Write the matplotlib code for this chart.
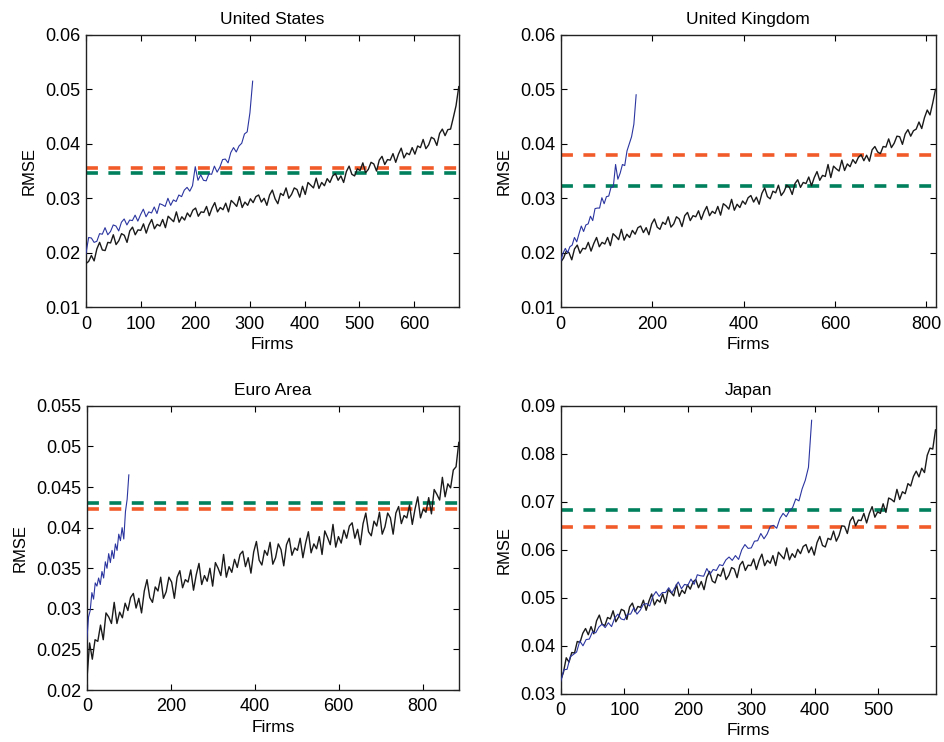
import matplotlib.pyplot as plt
import numpy as np

plt.rcParams['font.family'] = ['Liberation Sans', 'DejaVu Sans']

# 数据: sorted RMSE per firm, in units of 1e-4
titles = ['United States', 'United Kingdom', 'Euro Area', 'Japan']
n_firms = [682, 820, 886, 590]

us_black = [180, 184, 195, 185, 207, 219, 205, 204, 219, 218, 233, 215, 222, 235, 232, 219, 240, 247, 233, 242,
            241, 253, 236, 251, 261, 244, 252, 249, 261, 246, 267, 262, 257, 275, 256, 266, 260, 273, 266, 278,
            282, 267, 275, 274, 285, 268, 282, 292, 275, 283, 279, 291, 275, 296, 291, 285, 303, 283, 293, 287,
            299, 292, 303, 306, 293, 300, 287, 306, 315, 299, 290, 309, 305, 319, 300, 307, 319, 316, 302, 322,
            307, 329, 324, 319, 337, 318, 329, 323, 336, 329, 341, 345, 333, 341, 329, 349, 359, 344, 341, 354,
            351, 365, 347, 353, 366, 363, 350, 370, 377, 362, 371, 370, 382, 366, 381, 392, 374, 383, 380, 393,
            381, 396, 393, 408, 391, 398, 412, 409, 397, 419, 427, 415, 426, 427, 448, 470, 505]
us_blue = [198, 228, 227, 219, 221, 235, 234, 246, 233, 239, 251, 249, 240, 256, 262, 251, 260, 259, 269, 258,
           270, 280, 266, 275, 273, 284, 272, 290, 288, 285, 300, 287, 297, 294, 306, 303, 315, 320, 313, 323,
           358, 333, 343, 333, 332, 345, 344, 359, 348, 357, 371, 372, 365, 384, 393, 385, 396, 401, 418, 422,
           457, 515]
us_blue_firms = 305

uk_black = [183, 190, 203, 200, 187, 207, 214, 199, 208, 207, 219, 203, 217, 228, 211, 219, 216, 228, 213, 235,
            230, 224, 243, 223, 234, 228, 241, 234, 246, 249, 237, 246, 233, 253, 262, 247, 243, 256, 252, 266,
            247, 253, 266, 262, 248, 268, 274, 259, 268, 266, 277, 261, 275, 285, 268, 276, 272, 285, 269, 290,
            286, 280, 298, 278, 289, 283, 295, 289, 301, 305, 293, 302, 289, 309, 319, 303, 299, 313, 310, 324,
            305, 312, 324, 320, 307, 327, 334, 320, 329, 327, 339, 323, 338, 349, 333, 342, 340, 362, 338, 359,
            354, 350, 370, 351, 363, 358, 371, 364, 375, 380, 369, 379, 368, 389, 395, 385, 382, 395, 394, 409,
            393, 401, 414, 413, 399, 418, 426, 414, 424, 427, 440, 428, 448, 462, 453, 475, 500]
uk_blue = [185, 199, 208, 200, 211, 214, 228, 220, 235, 249, 239, 251, 253, 267, 259, 281, 282, 282, 301, 290,
           303, 304, 320, 321, 362, 335, 346, 362, 360, 387, 400, 413, 436, 490]
uk_blue_firms = 165

ea_black = [212, 258, 238, 262, 260, 280, 262, 295, 290, 282, 308, 282, 296, 289, 307, 298, 314, 319, 301, 313,
            295, 322, 336, 314, 308, 327, 322, 339, 313, 321, 339, 333, 313, 339, 347, 326, 336, 333, 348, 323,
            342, 356, 330, 341, 334, 350, 328, 357, 350, 341, 367, 339, 352, 345, 361, 351, 367, 371, 352, 363,
            344, 370, 383, 360, 354, 372, 366, 382, 355, 363, 380, 373, 353, 379, 387, 366, 375, 372, 387, 363,
            381, 395, 369, 380, 374, 389, 367, 396, 388, 379, 404, 376, 389, 381, 397, 387, 402, 406, 387, 398,
            379, 405, 418, 395, 390, 408, 402, 419, 392, 401, 418, 412, 392, 418, 426, 405, 415, 412, 428, 404,
            423, 438, 412, 423, 419, 437, 417, 447, 441, 434, 462, 438, 454, 449, 471, 475, 505]
ea_blue = [262, 290, 298, 320, 312, 332, 328, 338, 330, 346, 338, 358, 350, 368, 357, 372, 362, 380, 372, 392,
           384, 400, 386, 420, 435, 465]
ea_blue_firms = 100

jp_black = [328, 345, 375, 366, 386, 385, 409, 407, 426, 436, 423, 440, 425, 452, 464, 445, 442, 459, 456, 473,
            450, 460, 476, 473, 455, 481, 489, 471, 482, 480, 495, 474, 493, 508, 485, 496, 491, 508, 488, 517,
            511, 504, 528, 503, 516, 509, 527, 518, 533, 538, 521, 534, 517, 543, 555, 535, 531, 549, 545, 562,
            538, 547, 563, 560, 542, 568, 576, 557, 568, 567, 581, 559, 578, 591, 567, 578, 572, 588, 567, 595,
            588, 581, 604, 579, 592, 584, 601, 592, 607, 611, 594, 606, 589, 615, 628, 609, 606, 624, 621, 639,
            618, 630, 650, 649, 634, 660, 669, 650, 662, 661, 676, 656, 676, 690, 668, 679, 676, 696, 678, 708,
            705, 700, 726, 705, 721, 717, 738, 733, 753, 764, 752, 770, 761, 797, 812, 810, 850]
jp_blue = [326, 350, 351, 377, 382, 387, 410, 400, 413, 414, 429, 427, 439, 445, 438, 448, 440, 458, 466, 456,
           454, 466, 466, 479, 466, 474, 486, 488, 483, 503, 513, 503, 511, 511, 521, 510, 522, 533, 519, 528,
           526, 539, 528, 548, 546, 545, 561, 549, 559, 557, 569, 567, 579, 585, 578, 588, 580, 600, 611, 603,
           604, 618, 619, 634, 623, 633, 649, 651, 645, 665, 676, 669, 681, 688, 706, 702, 727, 745, 772, 870]
jp_blue_firms = 395

black_series = [us_black, uk_black, ea_black, jp_black]
blue_series = [us_blue, uk_blue, ea_blue, jp_blue]
blue_firms = [us_blue_firms, uk_blue_firms, ea_blue_firms, jp_blue_firms]

# 水平参考线 (orange, green)
orange_level = [0.0355, 0.0380, 0.0423, 0.0647]
green_level = [0.0347, 0.0322, 0.0430, 0.0683]

ylims = [(0.01, 0.06), (0.01, 0.06), (0.02, 0.055), (0.03, 0.09)]
yticks = [np.arange(0.01, 0.0601, 0.01), np.arange(0.01, 0.0601, 0.01),
          np.arange(0.02, 0.0551, 0.005), np.arange(0.03, 0.0901, 0.01)]
ytick_labels = [['0.01', '0.02', '0.03', '0.04', '0.05', '0.06'],
                ['0.01', '0.02', '0.03', '0.04', '0.05', '0.06'],
                ['0.02', '0.025', '0.03', '0.035', '0.04', '0.045', '0.05', '0.055'],
                ['0.03', '0.04', '0.05', '0.06', '0.07', '0.08', '0.09']]
xticks = [np.arange(0, 601, 100), np.arange(0, 801, 200),
          np.arange(0, 801, 200), np.arange(0, 501, 100)]

# 坐标轴位置 (figure fraction)
positions = [[0.091, 0.586, 0.395, 0.367],
             [0.594, 0.586, 0.397, 0.367],
             [0.092, 0.070, 0.394, 0.383],
             [0.594, 0.065, 0.397, 0.388]]

fig = plt.figure(figsize=(9.44, 7.42), dpi=100)

for i in range(4):
    ax = fig.add_axes(positions[i])
    n = n_firms[i]
    ax.axhline(orange_level[i], color='#f15a29', lw=2.6, dashes=(3.3, 2.9), zorder=2)
    ax.axhline(green_level[i], color='#00805c', lw=2.6, dashes=(3.3, 2.9), zorder=2)
    yb = np.array(black_series[i]) * 1e-4
    xb = np.linspace(0, n, len(yb))
    ax.plot(xb, yb, color='#1a1a1a', lw=1.0, zorder=3)
    yu = np.array(blue_series[i]) * 1e-4
    xu = np.linspace(0, blue_firms[i], len(yu))
    ax.plot(xu, yu, color='#2b35a0', lw=0.8, zorder=4)

    ax.set_xlim(0, n)
    ax.set_ylim(*ylims[i])
    ax.set_yticks(yticks[i])
    ax.set_yticklabels(ytick_labels[i])
    ax.set_xticks(xticks[i])
    ax.tick_params(direction='in', top=True, right=True, length=4, width=0.8,
                   labelsize=13)
    ax.tick_params(axis='x', pad=6)
    ax.tick_params(axis='y', pad=4)
    for s in ax.spines.values():
        s.set_linewidth(1.0)
        s.set_color('#222222')
    ax.set_title(titles[i], fontsize=12.5, pad=8)
    ax.set_xlabel('Firms', fontsize=12.5, labelpad=3)
    ax.set_ylabel('RMSE', fontsize=12, labelpad=6)

plt.savefig('out.png', dpi=100)
